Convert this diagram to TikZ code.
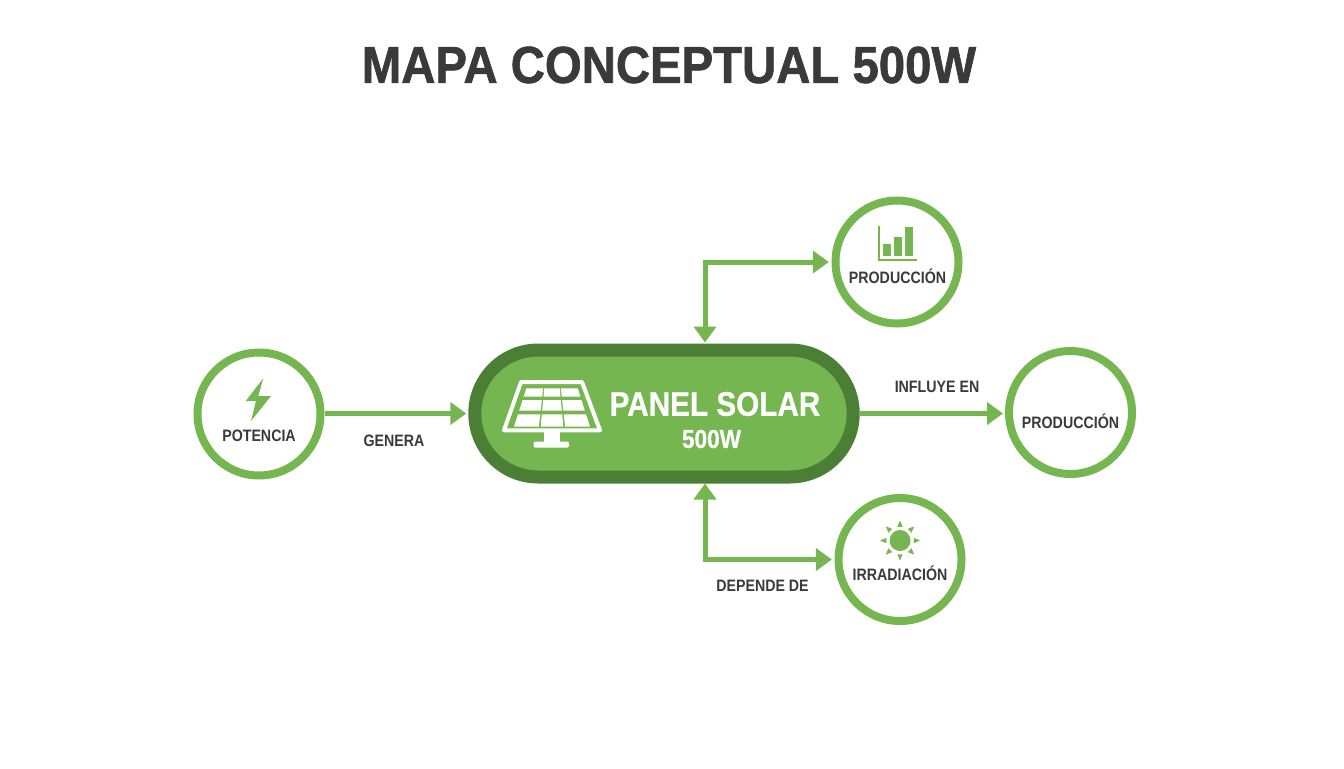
\documentclass[tikz,border=0pt]{standalone}
\usepackage{fontspec}
\setmainfont{Liberation Sans}
\newfontfamily\labelfont[FakeStretch=0.86]{Liberation Sans}
\newfontfamily\titlefont[UprightFont=* Bold, FakeStretch=0.91, FakeBold=1.2]{Liberation Sans}
\newfontfamily\panelfont[UprightFont=* Bold, FakeStretch=0.87, FakeBold=0.6]{Liberation Sans}
\usetikzlibrary{arrows.meta}
\usetikzlibrary{shapes.misc}
\definecolor{leafgreen}{HTML}{76B650}
\definecolor{darkgreen}{HTML}{4A7F35}
\definecolor{inktext}{HTML}{3A3A3A}

\begin{document}
\begin{tikzpicture}
    [
      x = 0.75pt, y = -0.75pt,
      conceptnode/.style = {circle, draw = leafgreen, fill = white, line width = 6pt, minimum size = 92.25pt, inner sep = 0pt},
      conceptname/.style = {font = \labelfont\fontsize{12.4pt}{14pt}\selectfont\bfseries, text = inktext, inner sep = 0pt},
      linkname/.style = {conceptname},
      link/.style = {draw = leafgreen, line width = 3.75pt, arrows = {-{Triangle[length = 12pt, width = 16.5pt]}}},
      twolink/.style = {link, arrows = {{Triangle[length = 12pt, width = 16.5pt]}-{Triangle[length = 12pt, width = 16.5pt]}}}
    ]
    \useasboundingbox (0,0) rectangle (1344,768);

    \node [font = \titlefont\fontsize{39pt}{44pt}\selectfont, text = inktext, inner sep = 0pt] (title) at (669,65) {MAPA CONCEPTUAL 500W};

    \node [rounded rectangle, draw = darkgreen, fill = leafgreen, line width = 9.75pt,
           minimum width = 290.5pt, minimum height = 95.25pt] (panel) at (664,413.5) {};
    \node [font = \panelfont\fontsize{25.6pt}{28pt}\selectfont, text = white, inner sep = 0pt] (paneltitle) at (715,404) {PANEL SOLAR};
    \node [font = \panelfont\fontsize{19.5pt}{21pt}\selectfont, text = white, inner sep = 0pt] (panelwatts) at (711.5,439) {500W};

    \node [conceptnode] (potencia) at (259,414) {};
    \node [conceptnode] (produccion) at (897,262) {};
    \node [conceptnode] (influencia) at (1070.5,412.5) {};
    \node [conceptnode] (irradiacion) at (900,559.5) {};

    \node [conceptname] (potenciatext) at (259,436) {POTENCIA};
    \node [conceptname] (producciontext) at (897.5,276) {PRODUCCIÓN};
    \node [conceptname] (influenciatext) at (1070.5,421.5) {PRODUCCIÓN};
    \node [conceptname] (irradiaciontext) at (900,573) {IRRADIACIÓN};

    \node [linkname] (genera) at (394,441) {GENERA};
    \node [linkname] (influye) at (937,387) {INFLUYE EN};
    \node [linkname] (depende) at (762.5,586) {DEPENDE DE};

    \coordinate (topbend) at (705,262);
    \coordinate (bottombend) at (705,560);

    \draw [link, shorten > = 1.5pt] (potencia.east |- panel) -- (panel.west);
    \draw [link, shorten > = 1.5pt] (panel.east) -- (panel -| influencia.west);
    \draw [twolink, shorten < = 0.75pt, shorten > = 2pt] (topbend |- panel.north) |- (produccion.west);
    \draw [twolink, shorten < = 0pt, shorten > = 2pt] (bottombend |- panel.south) |- (irradiacion.west);

    \draw [white, line width = 3pt, line join = round] (521,382) -- (582,382) -- (600,430.3) -- (504,430.3) -- cycle;
    \foreach \ya/\yb in {388.3/396.7, 400/410.7, 414.3/426.7}
      \foreach \ca/\cb in {-1/-0.345, -0.3/0.3, 0.345/1}
        \fill [white] ({552+\ca*(25.7+.32*(\ya-388.3))},\ya) -- ({552+\cb*(25.7+.32*(\ya-388.3))},\ya)
          -- ({552+\cb*(25.7+.32*(\yb-388.3))},\yb) -- ({552+\ca*(25.7+.32*(\yb-388.3))},\yb) -- cycle;
    \fill [white] (543.5,431) rectangle (560,442);
    \fill [white, rounded corners = 1pt] (533.5,441.5) rectangle (569,447.5);

    \fill [leafgreen] (263.3,378.3) -- (245.7,401) -- (256,401) -- (251,421) -- (271,396) -- (258.3,396) -- cycle;

    \draw [leafgreen, line width = 1.5pt] (879,225.5) -- (879,259.5) -- (917,259.5);
    \fill [leafgreen] (883.3,244) rectangle (891,256.3);
    \fill [leafgreen] (894.3,237) rectangle (902,256.3);
    \fill [leafgreen] (905.3,227.3) rectangle (913.3,256.3);

    \fill [leafgreen] (900,540.5) circle (10.5);
    \foreach \ang in {0,45,...,315}
      \fill [leafgreen] ([shift = {(\ang+11:14)}] 900,540.5) -- ([shift = {(\ang:20)}] 900,540.5) -- ([shift = {(\ang-11:14)}] 900,540.5) -- cycle;
\end{tikzpicture}
\end{document}
